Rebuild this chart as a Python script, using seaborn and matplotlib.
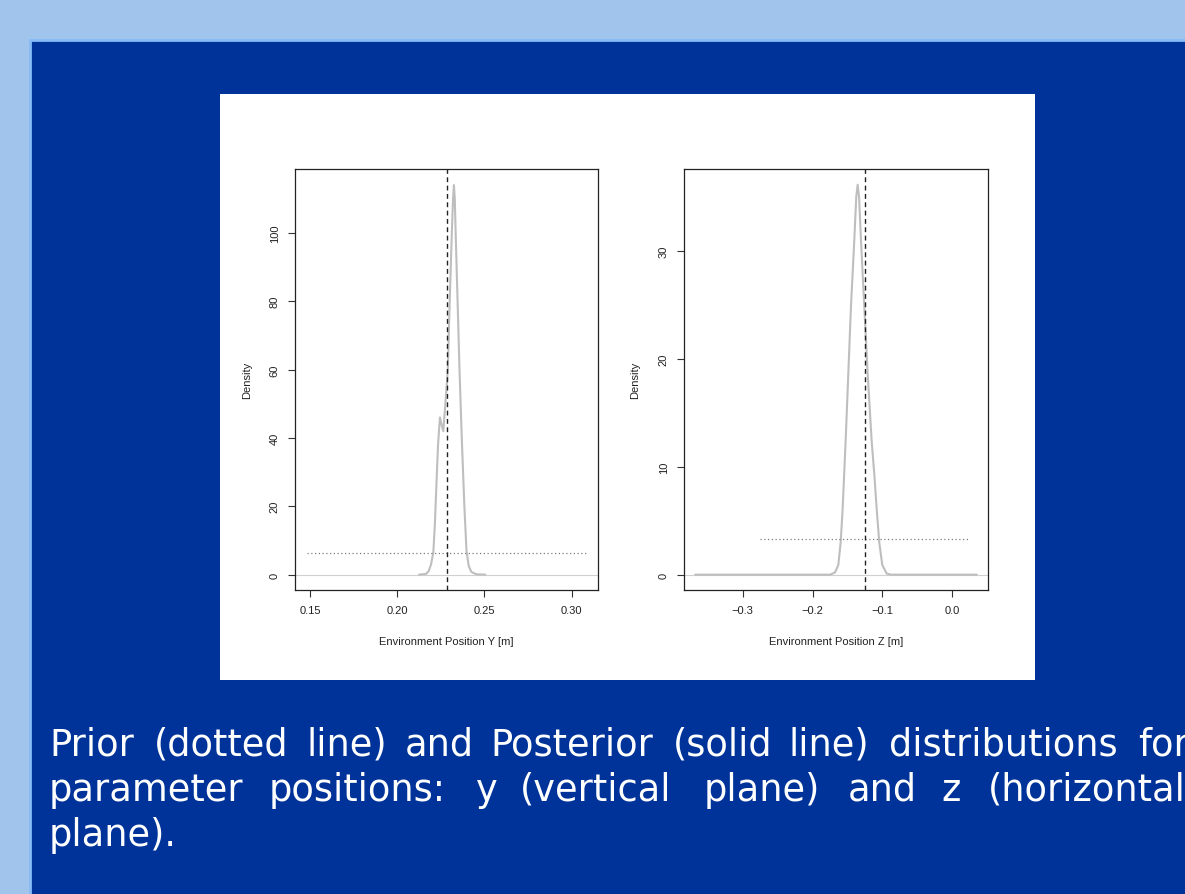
import numpy as np
import pandas as pd
import matplotlib
matplotlib.use("Agg")
import matplotlib.pyplot as plt
import seaborn as sns
from matplotlib.patches import Rectangle

# posterior density curves
post_y_x = [0.2125, 0.2165, 0.2180, 0.2194, 0.2207, 0.2216, 0.2226, 0.2234, 0.2245, 0.2254,
            0.2264, 0.2276, 0.2290, 0.2301, 0.2313, 0.2320, 0.2325, 0.2330, 0.2335, 0.2346,
            0.2357, 0.2370, 0.2385, 0.2397, 0.2410, 0.2425, 0.2454, 0.2505]
post_y_d = [0, 0.2, 1, 3, 6.5, 15, 28, 38, 46, 44,
            42, 50, 60, 80, 100, 110, 114, 110, 100, 80,
            60, 40, 20, 7, 2.5, 0.8, 0.1, 0]

post_z_x = [-0.368, -0.175, -0.168, -0.1632, -0.1598, -0.1570, -0.1527, -0.1489, -0.1451, -0.1403,
            -0.1375, -0.1355, -0.1335, -0.1308, -0.1260, -0.1212, -0.1155, -0.1117, -0.1083, -0.1046,
            -0.1003, -0.094, -0.088, 0.035]
post_z_d = [0, 0, 0.2, 0.9, 3, 6.1, 12.4, 18.6, 24.8, 31,
            35, 36.1, 35, 31, 24.8, 18.6, 12.4, 9.3, 6.1, 3,
            0.9, 0.1, 0, 0]

# uniform priors
prior_y_x = [0.148, 0.308]
prior_y_d = [6.25, 6.25]
prior_z_x = [-0.275, 0.025]
prior_z_d = [3.33, 3.33]

# reference (true) positions
true_y = 0.2285
true_z = -0.125

y_ticks = [0, 20, 40, 60, 80, 100]
z_ticks = [0, 10, 20, 30]
y_xticks = [0.15, 0.20, 0.25, 0.30]
z_xticks = [-0.3, -0.2, -0.1, 0.0]

caption_line1 = ["Prior", "(dotted", "line)", "and", "Posterior", "(solid", "line)", "distributions", "for"]
caption_line2 = ["parameter", "positions:", "y", "(vertical", "plane)", "and", "z", "(horizontal"]
caption_line3 = ["plane)."]

sns.set_style("white")
plt.rcParams['font.family'] = ['Liberation Sans', 'DejaVu Sans']

W, H = 1185, 895
fig = plt.figure(figsize=(W / 100, H / 100), dpi=100)
fig.patch.set_facecolor('#A0C4EC')

# slide panels
fig.patches.append(Rectangle((30 / W, -0.01), 1.0, (895 - 41) / H + 0.01, transform=fig.transFigure,
                             facecolor='#003399', edgecolor='#86BBF5', linewidth=2, zorder=-2))
fig.patches.append(Rectangle((220 / W, (H - 681) / H), 815 / W, 586 / H, transform=fig.transFigure,
                             facecolor='white', edgecolor='none', zorder=-1))

ax1 = fig.add_axes([295 / W, (H - 591) / H, 303 / W, 421 / H])
ax2 = fig.add_axes([684 / W, (H - 591) / H, 304 / W, 421 / H])

panels = [
    (ax1, post_y_x, post_y_d, prior_y_x, prior_y_d, true_y, y_xticks, y_ticks,
     (0.1414, 0.3151), (-4.5, 118.7), "Environment Position Y [m]", ['0.15', '0.20', '0.25', '0.30']),
    (ax2, post_z_x, post_z_d, prior_z_x, prior_z_d, true_z, z_xticks, z_ticks,
     (-0.384, 0.051), (-1.42, 37.56), "Environment Position Z [m]", ['\u22120.3', '\u22120.2', '\u22120.1', '0.0']),
]

for ax, px, pd_, qx, qd, tv, xt, yt, xl, yl, xlab, xtl in panels:
    ax.set_facecolor('white')
    ax.axhline(0, color='#D0D0D0', linewidth=0.8, zorder=1)
    sns.lineplot(x=px, y=pd_, ax=ax, color='#BEBEBE', linewidth=1.5, zorder=2)
    sns.lineplot(x=qx, y=qd, ax=ax, color='#808080', linewidth=0.9, linestyle=(0, (1, 2)), zorder=3)
    ax.axvline(tv, color='#222222', linewidth=1.0, linestyle=(0, (3.5, 2.5)), zorder=4)
    ax.set_xlim(*xl)
    ax.set_ylim(*yl)
    ax.set_xticks(xt)
    ax.set_xticklabels(xtl)
    ax.set_yticks(yt)
    ax.set_yticklabels([str(v) for v in yt], rotation=90, va='center')
    ax.tick_params(direction='out', length=5, width=0.8, color='#333333', labelsize=8,
                   labelcolor='#222222', pad=6, bottom=True, left=True)
    for s in ax.spines.values():
        s.set_color('#222222')
        s.set_linewidth(0.9)
    ax.set_xlabel(xlab, fontsize=8, color='#222222', va='center')
    ax.set_ylabel("Density", fontsize=8, color='#222222', va='center')
    ax.xaxis.set_label_coords(0.5, -50.7 / 421)
    ax.yaxis.set_label_coords(-48.3 / 303, 0.5)

# caption (justified: each word placed where it sits on the slide)
cap_kw = dict(color='white', fontsize=26.5, family='DejaVu Sans', va='baseline', ha='left')
caption_rows = [
    (caption_line1, [49, 154, 306, 405, 490, 673, 788, 889, 1138], 756),
    (caption_line2, [49, 269, 476, 520, 704, 848, 941, 988], 801),
    (caption_line3, [49], 846),
]
for words, xs, base in caption_rows:
    for w, wx in zip(words, xs):
        fig.text(wx / W, (H - base) / H, w, **cap_kw)

fig.savefig("out.png", dpi=100, facecolor=fig.get_facecolor())
